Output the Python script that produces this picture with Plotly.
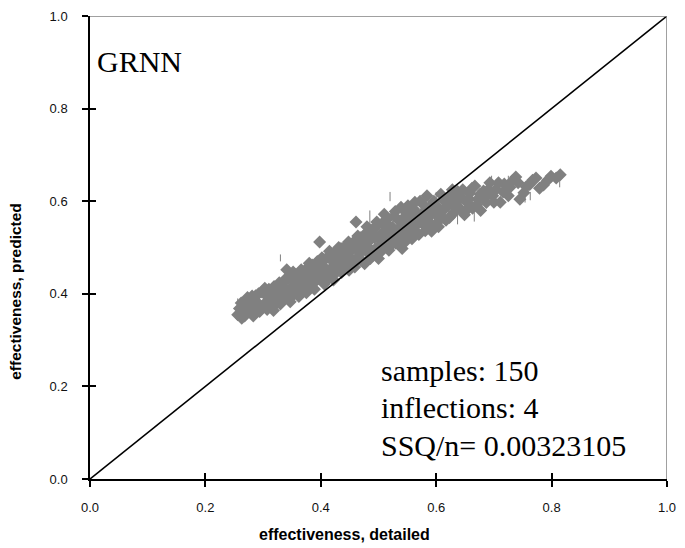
import plotly.graph_objects as go

# ---- data ----
x_detailed = [
    0.256, 0.259, 0.263, 0.267, 0.271, 0.275, 0.279, 0.283, 0.287, 0.290, 0.294, 0.298,
    0.301, 0.304, 0.307, 0.310, 0.313, 0.316, 0.319, 0.322, 0.325, 0.328, 0.332, 0.335,
    0.338, 0.341, 0.345, 0.348,
    0.351, 0.353, 0.356, 0.359, 0.361, 0.364, 0.367, 0.370, 0.373, 0.376, 0.379, 0.382,
    0.385, 0.388, 0.391, 0.394, 0.396, 0.398,
    0.401, 0.403, 0.406, 0.409, 0.411, 0.414, 0.417, 0.420, 0.423, 0.426, 0.429, 0.432,
    0.435, 0.438, 0.441, 0.444, 0.447, 0.449,
    0.452, 0.454, 0.457, 0.461, 0.463, 0.466, 0.469, 0.472, 0.475, 0.478, 0.481, 0.484,
    0.487, 0.490, 0.493, 0.495, 0.498, 0.500,
    0.503, 0.506, 0.509, 0.512, 0.515, 0.518, 0.521, 0.524, 0.527, 0.530, 0.533, 0.536,
    0.539, 0.541, 0.544, 0.547, 0.549,
    0.552, 0.555, 0.558, 0.561, 0.564, 0.567, 0.570, 0.572, 0.575, 0.578, 0.581, 0.585,
    0.589, 0.593, 0.597,
    0.601, 0.605, 0.609, 0.613, 0.617, 0.621, 0.625, 0.629, 0.633, 0.637, 0.641, 0.645,
    0.649,
    0.653, 0.658, 0.663, 0.667, 0.672, 0.677, 0.682, 0.687, 0.693, 0.698,
    0.704, 0.711, 0.718, 0.725, 0.732, 0.738, 0.745,
    0.756, 0.767, 0.779, 0.786, 0.799, 0.815,
]
y_predicted = [
    0.355, 0.368, 0.347, 0.378, 0.360, 0.389, 0.371, 0.352, 0.396, 0.381, 0.362, 0.404,
    0.377, 0.398, 0.366, 0.410, 0.389, 0.372, 0.416, 0.395, 0.381, 0.424, 0.403, 0.386,
    0.431, 0.452, 0.409, 0.392,
    0.428, 0.399, 0.441, 0.415, 0.436, 0.405, 0.447, 0.424, 0.412, 0.455, 0.433, 0.418,
    0.462, 0.441, 0.427, 0.470, 0.449, 0.512,
    0.432, 0.461, 0.421, 0.476, 0.447, 0.438, 0.483, 0.458, 0.441, 0.491, 0.467, 0.452,
    0.498, 0.474, 0.459, 0.505, 0.482, 0.451,
    0.492, 0.466, 0.512, 0.555, 0.478, 0.499, 0.521, 0.471, 0.506, 0.531, 0.489, 0.514,
    0.538, 0.482, 0.521, 0.545, 0.500, 0.476,
    0.528, 0.552, 0.503, 0.535, 0.561, 0.494, 0.518, 0.544, 0.568, 0.509, 0.533, 0.557,
    0.587, 0.498, 0.527, 0.551, 0.574,
    0.538, 0.562, 0.519, 0.583, 0.546, 0.570, 0.528, 0.600, 0.553, 0.577, 0.536, 0.562,
    0.588, 0.547, 0.574,
    0.553, 0.585, 0.567, 0.602, 0.559, 0.590, 0.613, 0.573, 0.598, 0.621, 0.584, 0.607,
    0.571,
    0.598, 0.617, 0.585, 0.633, 0.604, 0.580, 0.622, 0.597, 0.640, 0.612,
    0.626, 0.598, 0.637, 0.612, 0.644, 0.652, 0.604,
    0.631, 0.645, 0.628, 0.635, 0.654, 0.657,
]

# further overlapping marks that fill the band
x_detailed_b = [
    0.262, 0.268, 0.273, 0.281, 0.285, 0.292, 0.296, 0.303, 0.309, 0.315, 0.318, 0.324,
    0.330, 0.334, 0.340, 0.343, 0.347, 0.352, 0.357, 0.362, 0.366, 0.371, 0.375, 0.380,
    0.384, 0.389, 0.393, 0.397, 0.402, 0.405, 0.410, 0.415, 0.419, 0.422, 0.427, 0.431,
    0.436, 0.440, 0.445, 0.448, 0.451, 0.456, 0.459, 0.464, 0.468, 0.471, 0.476, 0.480,
    0.483, 0.486, 0.491, 0.494, 0.497, 0.502, 0.505, 0.510, 0.514, 0.517, 0.522, 0.526,
    0.529, 0.534, 0.538, 0.542, 0.546, 0.551, 0.554, 0.559, 0.563, 0.566, 0.571, 0.576,
    0.580, 0.584, 0.588, 0.592, 0.596, 0.600, 0.604, 0.608, 0.612, 0.618, 0.623, 0.628,
    0.634, 0.640, 0.646, 0.652, 0.657, 0.662, 0.670, 0.676, 0.684, 0.690, 0.700, 0.708,
    0.716, 0.728, 0.742, 0.752, 0.762, 0.773, 0.793, 0.808,
]
y_predicted_b = [
    0.380, 0.352, 0.392, 0.395, 0.368, 0.400, 0.372, 0.412, 0.383, 0.402, 0.364, 0.410,
    0.378, 0.418, 0.399, 0.433, 0.383, 0.447, 0.420, 0.394, 0.452, 0.438, 0.402, 0.466,
    0.445, 0.410, 0.456, 0.433, 0.478, 0.447, 0.430, 0.492, 0.472, 0.430, 0.480, 0.500,
    0.446, 0.488, 0.470, 0.512, 0.476, 0.500, 0.458, 0.525, 0.488, 0.509, 0.465, 0.545,
    0.500, 0.476, 0.528, 0.496, 0.555, 0.488, 0.515, 0.572, 0.522, 0.548, 0.505, 0.530,
    0.578, 0.515, 0.545, 0.562, 0.512, 0.590, 0.525, 0.552, 0.598, 0.532, 0.565, 0.595,
    0.548, 0.612, 0.570, 0.535, 0.600, 0.578, 0.545, 0.615, 0.580, 0.600, 0.565, 0.625,
    0.585, 0.605, 0.625, 0.580, 0.605, 0.628, 0.592, 0.615, 0.607, 0.625, 0.598, 0.640,
    0.620, 0.630, 0.640, 0.618, 0.636, 0.650, 0.645, 0.650,
]

# small vertical spread lines seen on some points
err_x = [0.256, 0.485, 0.600, 0.637, 0.666, 0.696, 0.725, 0.754, 0.763, 0.814, 0.330, 0.520]
err_y = [0.355, 0.550, 0.600, 0.570, 0.576, 0.635, 0.630, 0.615, 0.620, 0.645, 0.470, 0.600]
err_up = [0.035, 0.030, 0.020, 0.000, 0.000, 0.020, 0.025, 0.000, 0.000, 0.000, 0.015, 0.020]
err_dn = [0.000, 0.000, 0.000, 0.020, 0.020, 0.000, 0.000, 0.018, 0.018, 0.015, 0.000, 0.000]

diag_x = [0.0, 1.0]
diag_y = [0.0, 1.0]

tick_vals = [0.0, 0.2, 0.4, 0.6, 0.8, 1.0]
tick_text = ["0.0", "0.2", "0.4", "0.6", "0.8", "1.0"]

model_label = "GRNN"
stats_lines = ["samples: 150", "inflections: 4", "SSQ/n= 0.00323105"]
x_title = "effectiveness, detailed"
y_title = "effectiveness, predicted"

GRAY = "#808080"
SERIF = "Liberation Serif, Times New Roman, serif"
SANS = "Liberation Sans, Arial, sans-serif"

fig = go.Figure()

fig.add_trace(go.Scatter(
    x=err_x, y=err_y, mode="markers",
    marker=dict(size=1, color="rgba(0,0,0,0)"),
    error_y=dict(type="data", array=err_up, arrayminus=err_dn,
                 color=GRAY, thickness=1, width=0),
    showlegend=False, hoverinfo="skip",
))

fig.add_trace(go.Scatter(
    x=x_detailed + x_detailed_b, y=y_predicted + y_predicted_b, mode="markers",
    marker=dict(symbol="diamond", size=10, color=GRAY, line=dict(width=0)),
    showlegend=False,
))

fig.add_trace(go.Scatter(
    x=diag_x, y=diag_y, mode="lines",
    line=dict(color="black", width=1.6),
    showlegend=False, xaxis="x2", yaxis="y2",
))

common = dict(range=[0, 1], tickvals=tick_vals, showgrid=False, zeroline=False)

fig.update_layout(
    width=685, height=548, autosize=False,
    margin=dict(l=90, r=9, t=12, b=69, pad=0),
    paper_bgcolor="white", plot_bgcolor="white",
    xaxis=dict(**common, ticktext=tick_text, ticks="outside", ticklen=6, tickwidth=2,
               tickcolor="black", showline=True, linecolor="black", linewidth=2,
               tickfont=dict(family=SANS, size=13, color="#111"),
               ticklabelstandoff=9, ticklabeloverflow="allow"),
    yaxis=dict(**common, ticktext=tick_text, ticks="outside", ticklen=6, tickwidth=2,
               tickcolor="black", showline=True, linecolor="black", linewidth=1.5,
               tickfont=dict(family=SANS, size=13, color="#111"),
               ticklabelstandoff=12, ticklabeloverflow="allow"),
    xaxis2=dict(**common, overlaying="x", anchor="y2", side="bottom", ticks="inside",
                ticklen=6, tickwidth=2, tickcolor="black", showticklabels=False,
                showline=False),
    yaxis2=dict(**common, overlaying="y", anchor="x2", side="left", ticks="inside",
                ticklen=6, tickwidth=2, tickcolor="black", showticklabels=False,
                showline=False),
    shapes=[
        dict(type="line", xref="x", yref="y", x0=0, x1=1, y0=1, y1=1,
             line=dict(color=GRAY, width=1.5)),
        dict(type="line", xref="x", yref="y", x0=1, x1=1, y0=0, y1=1,
             line=dict(color=GRAY, width=1.5)),
    ],
)

annotations = [
    dict(text=model_label, xref="x", yref="y", x=0.008, y=0.902,
         xanchor="left", yanchor="middle", showarrow=False,
         font=dict(family=SERIF, size=30, color="black")),
]
stat_y = [0.235, 0.154, 0.072]
for txt, yy in zip(stats_lines, stat_y):
    annotations.append(dict(text=txt, xref="x", yref="y", x=0.501, y=yy,
                            xanchor="left", yanchor="middle", showarrow=False,
                            font=dict(family=SERIF, size=30, color="black")))
annotations.append(dict(text="<b>" + x_title + "</b>", xref="paper", yref="paper",
                        x=(348 - 90) / 586, y=(479 - 535) / 467,
                        xanchor="center", yanchor="middle", showarrow=False,
                        font=dict(family=SANS, size=16, color="black")))
annotations.append(dict(text="<b>" + y_title + "</b>", xref="paper", yref="paper",
                        x=(14 - 90) / 586, y=(479 - 290) / 467, textangle=-90,
                        xanchor="center", yanchor="middle", showarrow=False,
                        font=dict(family=SANS, size=15.5, color="black")))
fig.update_layout(annotations=annotations)

fig.write_html("out.html")
